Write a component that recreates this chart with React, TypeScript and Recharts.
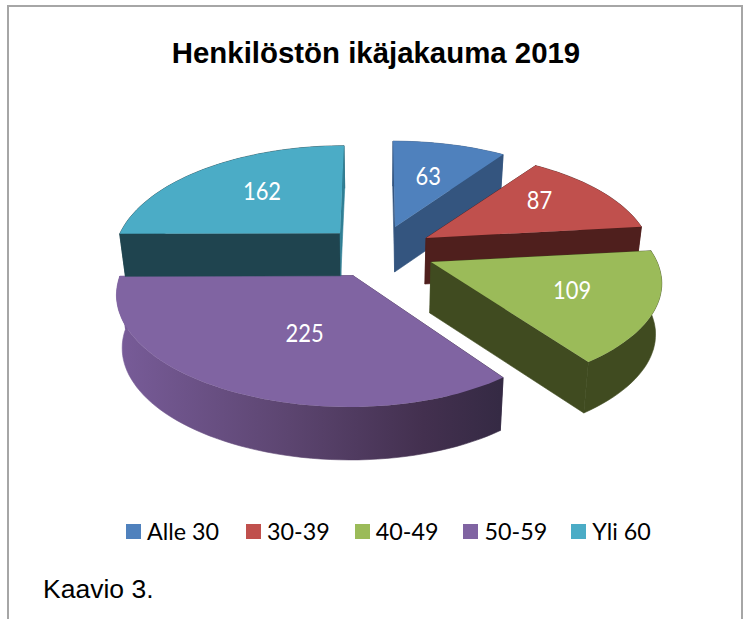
import React from "react";
import { PieChart, Pie, Legend } from "recharts";

const categories = ["Alle 30", "30-39", "40-49", "50-59", "Yli 60"];
const values = [63, 87, 109, 225, 162];
const topColors = ["#4f81bd", "#c0504d", "#9bbb59", "#8064a2", "#4bacc6"];
const wallColors = ["#34557f", "#4f1f1d", "#404b20", "url(#purpleWall)", "#1f444f"];
const endEdgeColors = ["#34557f", "#4f1f1d", "#404b20", "url(#purpleWall)", "#2f7f95"];

const CX = 378;
const CY = 250;
const RADIUS = 225;
const PERSPECTIVE = 0.2;
const CONVERGE = 0.022;

// Explosion offset, radius scale, vertical scale, shear and wall height of each slice.
const offX = [17, 48, 53, -35, -38];
const offY = [-23, -12, 12, 25.6, -16.7];
const scaleX = [0.987, 0.985, 1.005, 0.991, 0.978];
const scaleY = [0.458, 0.458, 0.458, 0.467, 0.467];
const shear = [-2.4, 0, 0, -5, 4.8];
const apexDx = [0, 0, 0, 10, 0];
const depth = [45, 46, 51, 53, 42.5];
const labelR = [0.57, 0.64, 0.66, 0.57, 0.62];
const labelDx = [0, -1, -3, 23, 9];
const labelDy = [-1, -7, -2, -3, -1];
const legendGaps = [27, 25, 25, 24, 0];

const data = categories.map((name, i) => ({ name, value: values[i], fill: topColors[i] }));

const project = (i: number, cx: number, cy: number, R: number, deg: number, r = 1) => {
  const a = (deg * Math.PI) / 180;
  const X = Math.sin(a) * r;
  const Y = Math.cos(a) * r;
  const w = 1 + PERSPECTIVE * Y;
  return [
    cx + offX[i] + (R * scaleX[i] * X + shear[i] * Y) / w,
    cy + offY[i] - (R * scaleY[i] * Y) / w,
  ];
};
const drop = (i: number, p: number[], cx: number) => [p[0] + (cx - p[0]) * CONVERGE, p[1] + depth[i]];
const poly = (pts: number[][]) => "M" + pts.map((p) => p[0].toFixed(1) + " " + p[1].toFixed(1)).join("L") + "Z";

const Slice = (props: any) => {
  const { cx, cy, outerRadius, startAngle, endAngle, index } = props;
  const from = 90 - startAngle;
  const to = 90 - endAngle;
  const arc: number[][] = [];
  const n = Math.max(2, Math.ceil((to - from) / 2));
  for (let k = 0; k <= n; k++) arc.push(project(index, cx, cy, outerRadius, from + ((to - from) * k) / n));
  const centre = project(index, cx, cy, outerRadius, 0, 0);
  const apex = [centre[0] + apexDx[index], centre[1]];
  const down = (p: number[]) => drop(index, p, cx);
  const outer = [...arc, ...arc.map(down).reverse()];
  const first = arc[0];
  const last = arc[arc.length - 1];
  const wall = wallColors[index];
  const edge = endEdgeColors[index];
  return (
    <g>
      <path d={poly(outer)} fill={wall} stroke={wall} strokeWidth={0.6} />
      <path d={poly([apex, first, down(first), down(apex)])} fill={wall} stroke={wall} strokeWidth={0.6} />
      <path d={poly([apex, last, down(last), down(apex)])} fill={edge} stroke={edge} strokeWidth={0.6} />
      <path d={poly([apex, ...arc])} fill={topColors[index]} />
    </g>
  );
};

const renderLabel = (props: any) => {
  const { cx, cy, outerRadius, midAngle, index, value } = props;
  const p = project(index, cx, cy, outerRadius, 90 - midAngle, labelR[index]);
  const txt = String(value);
  return (
    <text
      x={p[0] + labelDx[index]}
      y={p[1] + labelDy[index]}
      fill="#ffffff"
      fontFamily="Lato, sans-serif"
      fontSize={25}
      textAnchor="middle"
      dominantBaseline="central"
      textLength={txt.length * 12.7}
      lengthAdjust="spacingAndGlyphs"
    >
      {txt}
    </text>
  );
};

const renderLegend = (props: any) => (
  <div style={{ display: "flex", justifyContent: "flex-start", paddingLeft: 126, fontFamily: "Lato, sans-serif", fontSize: 23.3, color: "#000", lineHeight: "30px" }}>
    {props.payload.map((entry: any, i: number) => (
      <div key={entry.value} style={{ display: "flex", alignItems: "center", gap: 6, marginRight: legendGaps[i] }}>
        <span style={{ width: 15, height: 15, background: entry.color, display: "inline-block" }} />
        <span>{entry.value}</span>
      </div>
    ))}
  </div>
);

export default function App() {
  return (
    <div style={{ position: "absolute", left: 0, top: 0, width: 753, height: 619, background: "#fff", overflow: "hidden" }}>
      <div style={{ position: "absolute", left: 7, top: 5, width: 732, height: 640, border: "2px solid #a6a6a6", boxSizing: "content-box" }} />
      <PieChart width={753} height={619} margin={{ top: 0, right: 0, bottom: 0, left: 0 }} style={{ position: "absolute", left: 0, top: 0 }}>
        <defs>
          <linearGradient id="purpleWall" gradientUnits="userSpaceOnUse" x1={117} x2={500} y1={0} y2={0}>
            <stop offset="0" stopColor="#785c99" />
            <stop offset="0.45" stopColor="#5c4570" />
            <stop offset="0.8" stopColor="#43304f" />
            <stop offset="1" stopColor="#352a44" />
          </linearGradient>
        </defs>
        <text x={376} y={63} textAnchor="middle" fontFamily="'Liberation Sans', Arial, sans-serif" fontWeight={700} fontSize={29.4} fill="#000">
          Henkilöstön ikäjakauma 2019
        </text>
        <Pie
          data={data}
          dataKey="value"
          nameKey="name"
          cx={CX}
          cy={CY}
          outerRadius={RADIUS}
          startAngle={90}
          endAngle={-270}
          stroke="none"
          shape={Slice}
          label={renderLabel}
          labelLine={false}
          isAnimationActive={false}
        />
        <Legend content={renderLegend} itemSorter={null} wrapperStyle={{ left: 0, top: 516, width: 753 }} />
      </PieChart>
      <div style={{ position: "absolute", left: 43, top: 574, fontFamily: "'Liberation Sans', Arial, sans-serif", fontSize: 26.5, color: "#000", lineHeight: "30px" }}>
        Kaavio 3.
      </div>
    </div>
  );
}
